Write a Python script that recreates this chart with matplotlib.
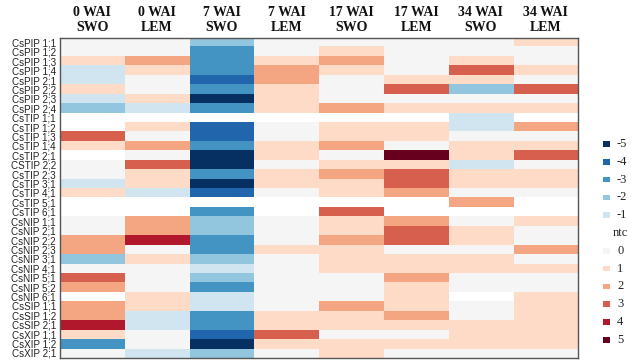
import numpy as np
import matplotlib.pyplot as plt
from matplotlib.colors import ListedColormap, BoundaryNorm
from matplotlib.patches import Rectangle

nan = np.nan

genes = ['CsPIP 1;1', 'CsPIP 1;2', 'CsPIP 1;3', 'CsPIP 1;4', 'CsPIP 2;1', 'CsPIP 2;2',
         'CsPIP 2;3', 'CsPIP 2;4', 'CsTIP 1;1', 'CsTIP 1;2', 'CsTIP 1;3', 'CsTIP 1;4',
         'CsTIP 2;1', 'CSTIP 2;2', 'CsTIP 2;3', 'CsTIP 3;1', 'CsTIP 4;1', 'CsTIP 5;1',
         'CsTIP 6;1', 'CsNIP 1;1', 'CsNIP 2;1', 'CsNIP 2;2', 'CsNIP 2;3', 'CsNIP 3;1',
         'CsNIP 4;1', 'CsNIP 5;1', 'CsNIP 5;2', 'CsNIP 6;1', 'CsSIP 1;1', 'CsSIP 1;2',
         'CsSIP 2;1', 'CsXIP 1;1', 'CsXIP 1;2', 'CsXIP 2;1']

stages = ['0 WAI\nSWO', '0 WAI\nLEM', '7 WAI\nSWO', '7 WAI\nLEM',
          '17 WAI\nSWO', '17 WAI\nLEM', '34 WAI\nSWO', '34 WAI\nLEM']

# log2 fold-change class per gene (NaN = not detected)
wai0_swo = [0, 0, 1, -1, -1, 1, -1, -2,
            nan, nan, 3, 1, nan, 0, 0, -1, 1, nan, nan,
            0, 0, 2, 2, -2, 0, 3, 2, nan,
            2, 2, 4, 1, -3, 0]
wai0_lem = [0, 0, 2, 1, 0, 0, 1, -1,
            nan, 1, 0, 2, 0, 3, 1, 1, -1, nan, nan,
            2, 2, 4, 0, 1, 0, 0, 0, 1,
            1, -1, -1, 0, 0, -1]
wai7_swo = [-2, -3, -3, -3, -4, -3, -5, -3,
            nan, -4, -4, -3, -5, -5, -3, -5, -4, nan, -3,
            -2, -2, -3, -3, -2, -1, -2, -3, -1,
            -1, -3, -3, -4, -5, -2]
wai7_lem = [0, 0, 1, 2, 2, 1, 1, 1,
            nan, 0, 0, 1, 1, 0, 1, 1, 0, nan, nan,
            0, 0, 0, 1, 0, 0, 0, 0, 0,
            0, 1, 1, 3, 1, 0]
wai17_swo = [0, 1, 2, 1, 0, 0, 0, 2,
             nan, 1, 1, 2, 0, 1, 2, 1, 1, nan, 3,
             1, 1, 2, 1, 1, 1, 0, 0, 0,
             2, 1, 1, 0, 1, 1]
wai17_lem = [0, 0, 0, 0, 1, 3, 0, 1,
             nan, 1, 1, 0, 5, 1, 3, 3, 2, nan, nan,
             2, 3, 3, 0, 1, 1, 2, 1, 1,
             1, 2, 1, 0, 1, 0]
wai34_swo = [0, 0, 1, 3, 1, -2, 0, 1,
             -1, -1, 0, 1, 1, -1, 1, 1, 0, 2, nan,
             0, 1, 1, 0, 1, 1, 0, 0, nan,
             0, 0, 1, 1, 1, 0]
wai34_lem = [1, 0, 0, 1, 0, 3, 0, 1,
             nan, 2, 0, 1, 3, 0, 1, 1, 0, nan, nan,
             1, 0, 0, 2, 0, 1, 0, 0, 1,
             1, 1, 1, 1, 1, 0]

levels = [-5, -4, -3, -2, -1, 0, 1, 2, 3, 4, 5]
level_colors = ['#053061', '#2166ac', '#4393c3', '#92c5de', '#d1e5f0', '#f5f5f5',
                '#fddbc7', '#f4a582', '#d6604d', '#b2182b', '#67001f']

data = np.column_stack([wai0_swo, wai0_lem, wai7_swo, wai7_lem,
                        wai17_swo, wai17_lem, wai34_swo, wai34_lem]).astype(float)

cmap = ListedColormap(level_colors)
cmap.set_bad('white')
norm = BoundaryNorm(np.arange(-5.5, 6.5, 1), cmap.N)

fig = plt.figure(figsize=(6.36, 3.6), dpi=100)
ax = fig.add_axes([0.0943, 0.0064, 0.8145, 0.8889])
ax.imshow(np.ma.masked_invalid(data), cmap=cmap, norm=norm, aspect='auto',
          interpolation='nearest')

ax.set_yticks(range(len(genes)))
ax.set_yticklabels(genes, fontsize=7.1, family='Liberation Sans', color='#222222')
ax.xaxis.tick_top()
ax.set_xticks(range(len(stages)))
ax.set_xticklabels(stages, fontsize=10, family='Liberation Serif', fontweight='bold',
                   linespacing=1.12, color='#111111')
ax.tick_params(length=0, pad=3)
ax.tick_params(axis='x', pad=3)
for sp in ax.spines.values():
    sp.set_color('#555555')
    sp.set_linewidth(1.0)

# discrete legend on the right
y0, step = 1 - 144 / 360, 17.8 / 360
rows = levels[:5] + [None] + levels[5:]
for k, lv in enumerate(rows):
    y = y0 - k * step
    if lv is None:
        fig.text(613 / 636, y, 'ntc', fontsize=9, family='Liberation Serif',
                 va='center', ha='left', color='#222222')
        continue
    col = level_colors[levels.index(lv)]
    fig.patches.append(Rectangle((603 / 636, y - 2.8 / 360), 6.5 / 636, 5.6 / 360,
                                 transform=fig.transFigure, facecolor=col,
                                 edgecolor='none'))
    fig.text(617 / 636, y, str(lv), fontsize=9, family='Liberation Serif',
             va='center', ha='left', color='#222222')

fig.savefig('out.png', dpi=100)
